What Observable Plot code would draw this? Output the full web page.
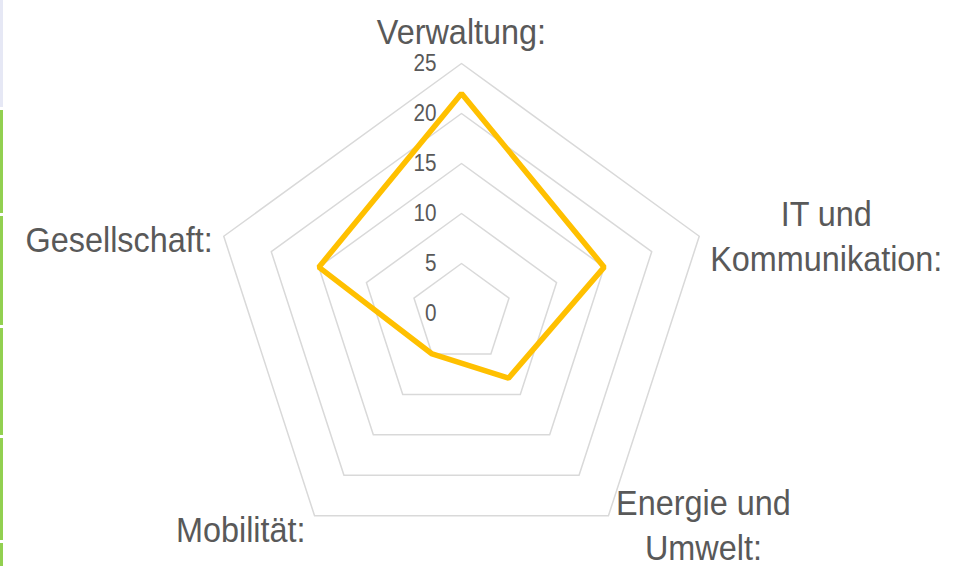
<!DOCTYPE html>
<html>
<head>
<meta charset="utf-8">
<script src="https://cdn.jsdelivr.net/npm/d3@7"></script>
<script src="https://cdn.jsdelivr.net/npm/@observablehq/plot@0.6"></script>
<style>
  html, body { margin: 0; padding: 0; background: #fff; }
  #wrap { position: relative; width: 974px; height: 566px; overflow: hidden; }
  #edge { position: absolute; left: 0; top: 0; width: 3px; height: 566px;
    background: linear-gradient(to bottom, #e6e8f5 0px, #e6e8f5 107px, #fff 107px, #fff 110px,
      #92d050 110px, #92d050 213px, #fff 213px, #fff 216px,
      #92d050 216px, #92d050 325px, #fff 325px, #fff 328px,
      #92d050 328px, #92d050 435px, #fff 435px, #fff 438px,
      #92d050 438px, #92d050 540px, #fff 540px, #fff 543px,
      #92d050 543px, #92d050 566px); }
  #chart svg { display: block; }
</style>
</head>
<body>
<div id="wrap"><div id="edge"></div><div id="chart"></div></div>
<script>
// Data
const categories = ["Verwaltung:", "IT und\nKommunikation:", "Energie und\nUmwelt:", "Mobilität:", "Gesellschaft:"];
const values = [22, 15, 8, 5, 15];
const tickValues = [0, 5, 10, 15, 20, 25];
const gridLevels = [5, 10, 15, 20, 25];
const maxValue = 25;

// label style offsets (pixels) per axis: [textAnchor, dx, dy]
const labelOffsets = [["middle", 0, -34], ["middle", 127, -2], ["middle", 95, 7], ["end", -9, 12], ["end", -11, 1]];

const n = categories.length;
const angle = i => (i * 2 * Math.PI) / n;
const px = (i, r) => r * Math.sin(angle(i));
const py = (i, r) => r * Math.cos(angle(i));

const gridData = gridLevels.flatMap(level =>
  categories.map((c, i) => ({level, x: px(i, level), y: py(i, level)})));
const seriesData = values.map((v, i) => ({cat: categories[i], x: px(i, v), y: py(i, v)}));
const tickData = tickValues.map(v => ({v, x: 0, y: v}));
const labelData = categories.map((c, i) => ({
  label: c, x: px(i, maxValue), y: py(i, maxValue),
  anchor: labelOffsets[i][0], dx: labelOffsets[i][1], dy: labelOffsets[i][2]
}));

const marks = [
  Plot.line(gridData, {x: "x", y: "y", z: "level", curve: "linear-closed", stroke: "#d9d9d9", strokeWidth: 1.5}),
  Plot.text(tickData, {x: "x", y: "y", text: d => String(d.v), textAnchor: "end", dx: -25, fill: "#595959", fontSize: 23}),
  Plot.line(seriesData, {x: "x", y: "y", curve: "linear-closed", stroke: "#FFC000", strokeWidth: 5.5, strokeLinejoin: "miter"})
];
for (const d of labelData) {
  marks.push(Plot.text([d], {x: "x", y: "y", text: "label", textAnchor: d.anchor, dx: d.dx, dy: d.dy,
    fill: "#595959", fontSize: 36, lineHeight: 1.25}));
}

const chart = Plot.plot({
  width: 974,
  height: 566,
  margin: 0,
  style: {fontFamily: "'Liberation Sans', Arial, sans-serif", background: "transparent"},
  x: {domain: [-46.1, 51.3], axis: null},
  y: {domain: [-25.3, 31.3], axis: null},
  marks
});
// condense glyphs horizontally, as in the reference
chart.querySelectorAll("text").forEach(t => {
  const tr = t.getAttribute("transform") || "";
  t.setAttribute("transform", tr + " scale(0.9,1)");
});
document.getElementById("chart").appendChild(chart);
</script>
</body>
</html>
